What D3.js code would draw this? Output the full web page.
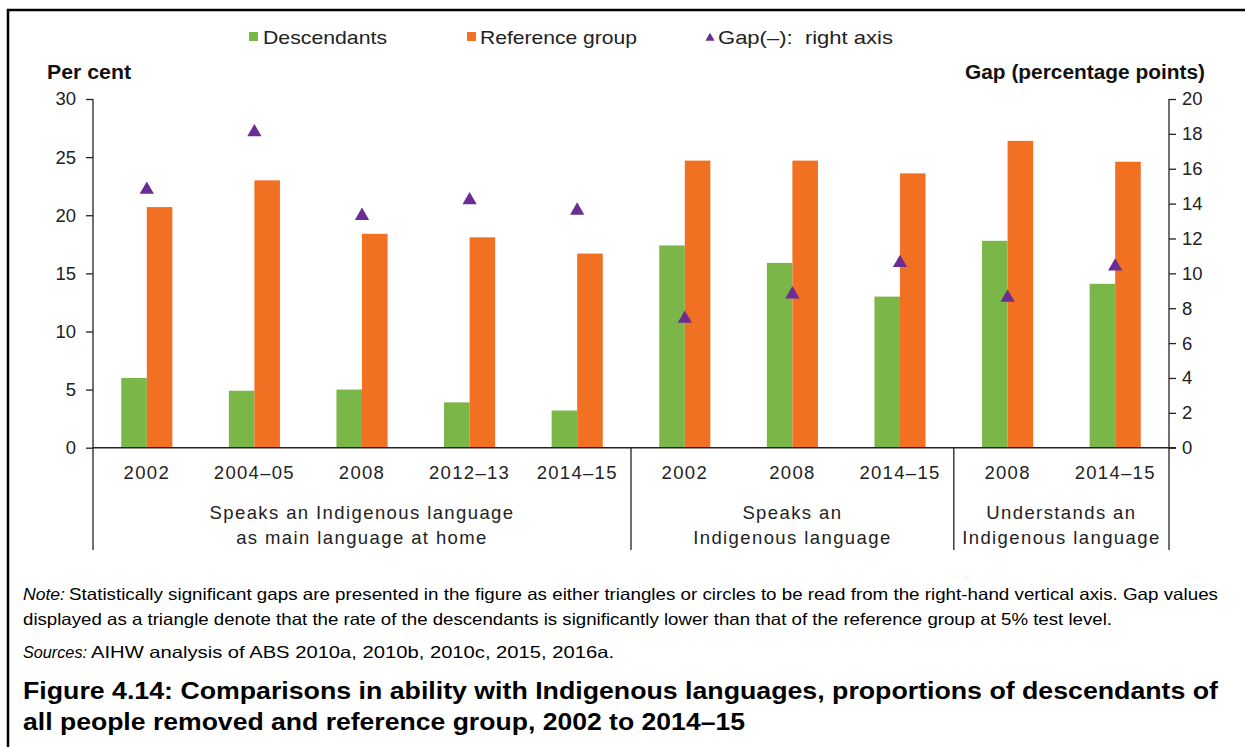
<!DOCTYPE html>
<html>
<head>
<meta charset="utf-8">
<script src="https://cdn.jsdelivr.net/npm/d3@7"></script>
<style>
  html, body { margin: 0; padding: 0; background: #fff; }
  svg { display: block; font-family: "Liberation Sans", Arial, sans-serif; }
</style>
</head>
<body>
<svg id="chart" width="1245" height="747"></svg>
<script>
// Survey years within each language group
const categories = ["2002", "2004–05", "2008", "2012–13", "2014–15", "2002", "2008", "2014–15", "2008", "2014–15"];
// Per cent of descendants
const descendants = [6.0, 4.9, 5.0, 3.9, 3.2, 17.4, 15.9, 13.0, 17.8, 14.1];
// Per cent of reference group
const reference = [20.7, 23.0, 18.4, 18.1, 16.7, 24.7, 24.7, 23.6, 26.4, 24.6];
// Gap in percentage points (right axis)
const gap = [14.8, 18.1, 13.3, 14.2, 13.6, 7.4, 8.8, 10.6, 8.6, 10.4];
// Language groups along the x axis
const groupLabels = [
  ["Speaks an Indigenous language", "as main language at home"],
  ["Speaks an", "Indigenous language"],
  ["Understands an", "Indigenous language"]
];
const groupSizes = [5, 3, 2];
const leftTicks = [0, 5, 10, 15, 20, 25, 30];
const rightTicks = [0, 2, 4, 6, 8, 10, 12, 14, 16, 18, 20];
const seriesNames = ["Descendants", "Reference group", "Gap(–):  right axis"];

const GREEN = "#7ab648", ORANGE = "#f27022", PURPLE = "#6b2c94", INK = "#222";

const svg = d3.select("#chart");

// frame around the figure
svg.append("line").attr("x1", 7).attr("x2", 1245).attr("y1", 10).attr("y2", 10)
  .attr("stroke", "#000").attr("stroke-width", 2.5);
svg.append("line").attr("x1", 8).attr("x2", 8).attr("y1", 9).attr("y2", 747)
  .attr("stroke", "#000").attr("stroke-width", 2.5);

const plotLeft = 93, plotRight = 1169, plotTop = 99, plotBottom = 447.7;
const keys = categories.map((c, i) => i);

const x = d3.scaleBand().domain(keys).range([plotLeft, plotRight])
  .paddingInner(0.525).paddingOuter(0.2625);
const sub = d3.scaleBand().domain([0, 1]).range([0, x.bandwidth()]);
const yL = d3.scaleLinear().domain([0, 30]).range([plotBottom, plotTop]);
const yR = d3.scaleLinear().domain([0, 20]).range([plotBottom, plotTop]);

// bars
const g = svg.append("g");
g.selectAll("rect.desc").data(descendants).join("rect")
  .attr("class", "desc")
  .attr("x", (d, i) => x(i) + sub(0)).attr("width", sub.bandwidth())
  .attr("y", d => yL(d)).attr("height", d => yL(0) - yL(d))
  .attr("fill", GREEN);
g.selectAll("rect.ref").data(reference).join("rect")
  .attr("class", "ref")
  .attr("x", (d, i) => x(i) + sub(1)).attr("width", sub.bandwidth())
  .attr("y", d => yL(d)).attr("height", d => yL(0) - yL(d))
  .attr("fill", ORANGE);

// gap markers on the right axis
const tri = d3.symbol().type(d3.symbolTriangle).size(88);
g.selectAll("path.gap").data(gap).join("path")
  .attr("class", "gap")
  .attr("d", tri)
  .attr("transform", (d, i) => `translate(${x(i) + x.bandwidth() / 2},${yR(d)})`)
  .attr("fill", PURPLE);

// axes
const axisStyle = sel => {
  sel.selectAll(".domain").remove();
  sel.selectAll("line").attr("stroke", INK).attr("stroke-width", 1.3);
  sel.selectAll("text").attr("fill", INK).style("font-size", "18.5px")
    .style("font-family", "'Liberation Sans', Arial, sans-serif");
};
svg.append("g").attr("transform", `translate(${plotLeft},0)`)
  .call(d3.axisLeft(yL).tickValues(leftTicks).tickSize(7).tickPadding(10))
  .call(axisStyle);
svg.append("g").attr("transform", `translate(${plotRight},0)`)
  .call(d3.axisRight(yR).tickValues(rightTicks).tickSize(7).tickPadding(6))
  .call(axisStyle);

const frameBottom = 550;
svg.append("line").attr("x1", plotLeft).attr("x2", plotLeft).attr("y1", plotTop).attr("y2", frameBottom)
  .attr("stroke", INK).attr("stroke-width", 1.3);
svg.append("line").attr("x1", plotRight).attr("x2", plotRight).attr("y1", plotTop).attr("y2", frameBottom)
  .attr("stroke", INK).attr("stroke-width", 1.3);
svg.append("line").attr("x1", plotLeft).attr("x2", plotRight + 7).attr("y1", plotBottom).attr("y2", plotBottom)
  .attr("stroke", INK).attr("stroke-width", 1.5);

// category labels
svg.append("g").selectAll("text").data(categories).join("text")
  .attr("x", (d, i) => x(i) + x.bandwidth() / 2)
  .attr("y", 479)
  .attr("text-anchor", "middle")
  .attr("fill", INK)
  .style("font-size", "18.5px")
  .style("letter-spacing", "1.3px")
  .text(d => d);

// group separators and labels
let start = 0;
groupSizes.forEach((n, gi) => {
  const x0 = x(start) - x.step() * x.paddingInner() / 2;
  const x1 = x(start + n - 1) + x.bandwidth() + x.step() * x.paddingInner() / 2;
  if (gi > 0) {
    svg.append("line").attr("x1", x0).attr("x2", x0).attr("y1", plotBottom).attr("y2", frameBottom)
      .attr("stroke", INK).attr("stroke-width", 1.3);
  }
  groupLabels[gi].forEach((line, li) => {
    svg.append("text")
      .attr("x", (x0 + x1) / 2)
      .attr("y", 519 + li * 24.5)
      .attr("text-anchor", "middle")
      .attr("fill", INK)
      .style("font-size", "18.5px")
      .style("letter-spacing", "1.4px")
      .text(line);
  });
  start += n;
});

// axis titles
svg.append("text").attr("x", 47).attr("y", 79)
  .style("font-size", "19.5px").style("font-weight", "bold").attr("fill", "#111")
  .attr("textLength", 84).attr("lengthAdjust", "spacingAndGlyphs")
  .text("Per cent");
svg.append("text").attr("x", 965).attr("y", 79)
  .style("font-size", "19.5px").style("font-weight", "bold").attr("fill", "#111")
  .attr("textLength", 240).attr("lengthAdjust", "spacingAndGlyphs")
  .text("Gap (percentage points)");

// legend
const legendX = [249, 467, 705];
const legend = svg.append("g");
legend.append("rect").attr("x", legendX[0]).attr("y", 32).attr("width", 9).attr("height", 9).attr("fill", GREEN);
legend.append("rect").attr("x", legendX[1]).attr("y", 32).attr("width", 9).attr("height", 9).attr("fill", ORANGE);
legend.append("path").attr("d", d3.symbol().type(d3.symbolTriangle).size(36))
  .attr("transform", `translate(${legendX[2] + 5},38)`).attr("fill", PURPLE);
const legendTextX = [263, 480, 718];
const legendTextW = [124, 157, 175];
seriesNames.forEach((s, i) => {
  legend.append("text").attr("x", legendTextX[i]).attr("y", 43.5)
    .attr("fill", INK).style("font-size", "18.5px")
    .attr("textLength", legendTextW[i]).attr("lengthAdjust", "spacingAndGlyphs")
    .style("white-space", "pre")
    .text(s);
});

// notes and title
const note = svg.append("g").attr("fill", "#000").style("font-size", "16.5px");
note.append("text").attr("x", 23).attr("y", 600).style("font-style", "italic")
  .attr("textLength", 42).attr("lengthAdjust", "spacingAndGlyphs").text("Note:");
note.append("text").attr("x", 69).attr("y", 600)
  .attr("textLength", 1149).attr("lengthAdjust", "spacingAndGlyphs")
  .text("Statistically significant gaps are presented in the figure as either triangles or circles to be read from the right-hand vertical axis. Gap values");
note.append("text").attr("x", 23).attr("y", 625)
  .attr("textLength", 1089).attr("lengthAdjust", "spacingAndGlyphs")
  .text("displayed as a triangle denote that the rate of the descendants is significantly lower than that of the reference group at 5% test level.");
note.append("text").attr("x", 23).attr("y", 658).style("font-style", "italic")
  .attr("textLength", 64).attr("lengthAdjust", "spacingAndGlyphs").text("Sources:");
note.append("text").attr("x", 91).attr("y", 658)
  .attr("textLength", 523).attr("lengthAdjust", "spacingAndGlyphs")
  .text("AIHW analysis of ABS 2010a, 2010b, 2010c, 2015, 2016a.");

const title = svg.append("g").attr("fill", "#000").style("font-size", "23px").style("font-weight", "bold");
title.append("text").attr("x", 23).attr("y", 699)
  .attr("textLength", 1195).attr("lengthAdjust", "spacingAndGlyphs")
  .text("Figure 4.14: Comparisons in ability with Indigenous languages, proportions of descendants of");
title.append("text").attr("x", 23).attr("y", 730)
  .attr("textLength", 722).attr("lengthAdjust", "spacingAndGlyphs")
  .text("all people removed and reference group, 2002 to 2014–15");
</script>
</body>
</html>
